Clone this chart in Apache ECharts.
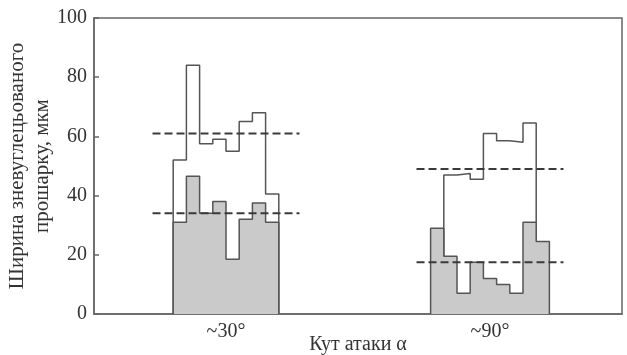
<!DOCTYPE html>
<html>
<head>
<meta charset="utf-8">
<script src="https://cdn.jsdelivr.net/npm/echarts@6/dist/echarts.min.js"></script>
<style>
  html, body { margin: 0; padding: 0; background: #fff; }
  #chart { width: 627px; height: 355px; }
</style>
</head>
<body>
<div id="chart"></div>
<script>
  // bins are 3 degrees wide, x axis is the attack angle
  const binWidth = 3
  const xTickLabels = { 30: '~30°', 90: '~90°' }

  // ~30 group
  const start30 = 18
  const open30 = [52, 84, 57.5, 59, 55, 65, 68, 40.5]
  const gray30 = [31, 46.5, 34, 38, 18.5, 32, 37.5, 31]
  const means30 = [61, 34]
  const meanSpan30 = [13.3, 46.7]

  // ~90 group (open outline starts one bin later)
  const start90 = 76.5
  const openStart90 = 79.5
  const open90 = [47, 47.5, 45.5, 61, 58.5, 58, 64.5]
  const gray90 = [29, 19.5, 7, 17.5, 12, 10, 7, 31, 24.5]
  const means90 = [49, 17.5]
  const meanSpan90 = [73.3, 106.7]

  const yTicks = [0, 20, 40, 60, 80, 100]

  const textColor = '#333'
  const lineColor = '#555'
  const serif = 'Liberation Serif'

  function stepData(start, vals){
    let arr = [[start, 0]]
    vals.forEach((v, i) => arr.push([start + i * binWidth, v]))
    let end = start + vals.length * binWidth
    arr.push([end, vals[vals.length - 1]])
    arr.push([end, 0])
    return arr
  }

  function outline(data){
    return {
      type: 'line', step: 'end', data: data, symbol: 'none', silent: true,
      lineStyle: { color: lineColor, width: 1.5 }, z: 2
    }
  }
  function filled(data){
    return {
      type: 'line', step: 'end', data: data, symbol: 'none', silent: true,
      lineStyle: { color: lineColor, width: 1.5 },
      areaStyle: { color: '#cacaca', opacity: 1 }, z: 3
    }
  }
  function dashed(y, span){
    return {
      type: 'line', data: [[span[0], y], [span[1], y]], symbol: 'none', silent: true,
      lineStyle: { color: '#3a3a3a', width: 2, type: [8, 4] }, z: 4
    }
  }

  const series = [
    outline(stepData(start30, open30)),
    outline(stepData(openStart90, open90)),
    filled(stepData(start30, gray30)),
    filled(stepData(start90, gray90))
  ]
  means30.forEach(m => series.push(dashed(m, meanSpan30)))
  means90.forEach(m => series.push(dashed(m, meanSpan90)))

  const chart = echarts.init(document.getElementById('chart'))
  chart.setOption({
    animation: false,
    grid: {
      left: 94, right: 5, top: 18, bottom: 41,
      containLabel: false, outerBoundsMode: 'none',
      show: true, borderColor: '#666', borderWidth: 1.5
    },
    xAxis: {
      type: 'value', min: 0, max: 120, interval: 30,
      name: 'Кут атаки α', nameLocation: 'middle', nameGap: 21, nameMoveOverlap: false,
      nameTextStyle: { fontFamily: serif, fontSize: 20, color: textColor },
      axisLine: { lineStyle: { color: '#666', width: 1.5 } },
      axisTick: { show: false },
      splitLine: { show: false },
      axisLabel: {
        fontFamily: serif, fontSize: 20, color: textColor, margin: 8,
        formatter: v => xTickLabels[v] || ''
      }
    },
    yAxis: {
      type: 'value', min: yTicks[0], max: yTicks[yTicks.length - 1], interval: 20,
      name: 'Ширина зневуглецьованого\nпрошарку, мкм',
      nameLocation: 'middle', nameGap: 39, nameRotate: 90, nameMoveOverlap: false,
      nameTextStyle: { fontFamily: serif, fontSize: 21, color: textColor, lineHeight: 25 },
      axisLine: { show: true, lineStyle: { color: '#666', width: 1.5 } },
      axisTick: { show: true, inside: true, length: 5, lineStyle: { color: '#666', width: 1.5 } },
      splitLine: { show: false },
      axisLabel: { fontFamily: serif, fontSize: 20, color: textColor, margin: 7 }
    },
    series: series
  })
</script>
</body>
</html>
